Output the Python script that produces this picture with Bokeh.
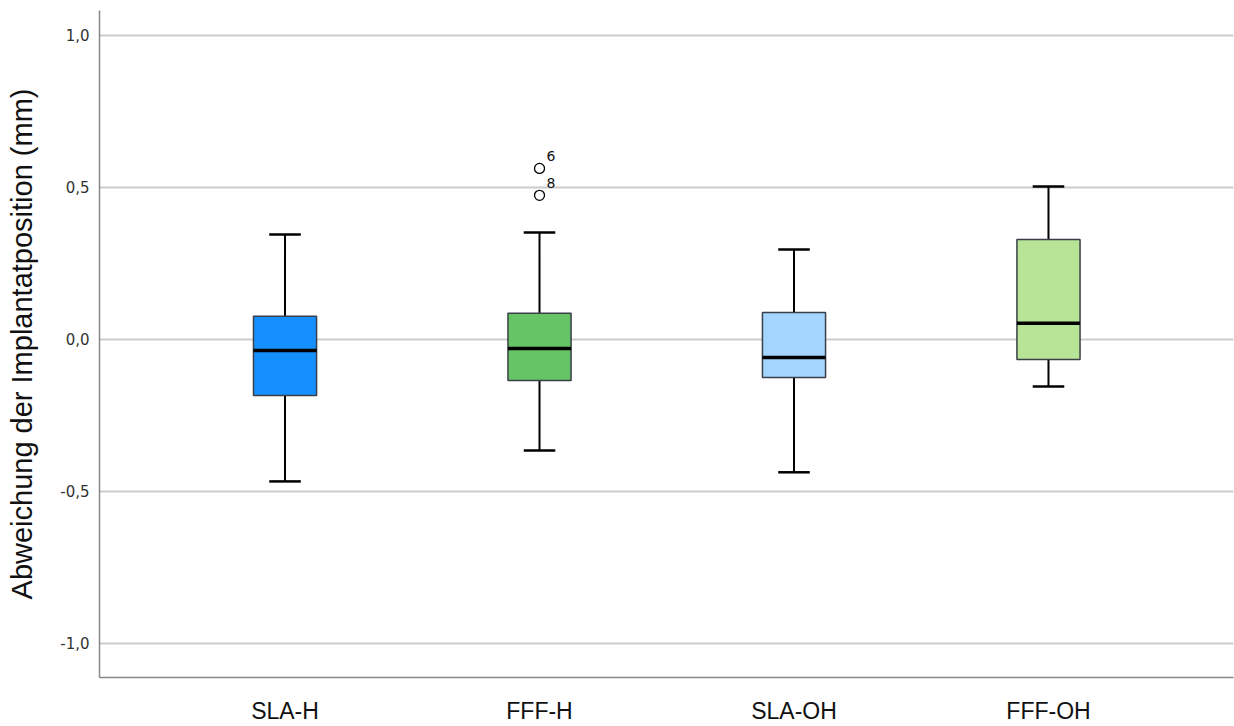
from bokeh.plotting import figure
from bokeh.models import Range1d, FixedTicker, ColumnDataSource
from bokeh.embed import file_html
from bokeh.resources import INLINE
from bokeh.core.properties import value

# Groups and box statistics (mm)
groups = ["SLA-H", "FFF-H", "SLA-OH", "FFF-OH"]
colors = ["#1590ff", "#66c466", "#a3d5ff", "#b8e497"]
whisker_low = [-0.467, -0.365, -0.437, -0.155]
q1 = [-0.184, -0.135, -0.125, -0.066]
median = [-0.036, -0.030, -0.059, 0.053]
q3 = [0.076, 0.086, 0.089, 0.329]
whisker_high = [0.345, 0.352, 0.296, 0.503]

# Outliers (group index, value, case label)
outlier_group = [2, 2]
outlier_value = [0.5625, 0.474]
outlier_label = ["6", "8"]

y_ticks = [-1.0, -0.5, 0.0, 0.5, 1.0]
y_tick_labels = ["-1,0", "-0,5", "0,0", "0,5", "1,0"]

xs = list(range(1, len(groups) + 1))
box_w = 0.248
cap_w = 0.124

p = figure(width=1234, height=726, output_backend="svg", toolbar_location=None,
           x_range=Range1d(0.271, 4.727), y_range=Range1d(-1.112, 1.082),
           min_border_left=99, min_border_right=1, min_border_top=10, min_border_bottom=49)
p.outline_line_color = None
p.background_fill_color = "white"
p.border_fill_color = "white"

# grid
p.xgrid.grid_line_color = None
p.ygrid.grid_line_color = "#cccccc"
p.ygrid.grid_line_width = 2
p.ygrid.ticker = FixedTicker(ticks=y_ticks)

# y axis
p.yaxis.ticker = FixedTicker(ticks=y_ticks)
p.yaxis.major_label_overrides = {t: l for t, l in zip(y_ticks, y_tick_labels)}
p.yaxis.major_tick_line_color = None
p.yaxis.minor_tick_line_color = None
p.yaxis.axis_line_color = "#888888"
p.yaxis.axis_line_width = 1.5
p.yaxis.major_label_text_font = "DejaVu Sans"
p.yaxis.major_label_text_font_size = "15px"
p.yaxis.major_label_text_color = "#333333"
p.yaxis.major_label_standoff = 4
p.yaxis.axis_label = "Abweichung der Implantatposition (mm)"
p.yaxis.axis_label_text_font = "Liberation Sans"
p.yaxis.axis_label_text_font_size = "29px"
p.yaxis.axis_label_text_font_style = "normal"
p.yaxis.axis_label_text_color = "#111111"
p.yaxis.axis_label_standoff = 19

# x axis
p.xaxis.ticker = FixedTicker(ticks=xs)
p.xaxis.major_label_overrides = {x: g for x, g in zip(xs, groups)}
p.xaxis.major_tick_line_color = None
p.xaxis.minor_tick_line_color = None
p.xaxis.axis_line_color = "#888888"
p.xaxis.axis_line_width = 1.5
p.xaxis.major_label_text_font = "Liberation Sans"
p.xaxis.major_label_text_font_size = "23px"
p.xaxis.major_label_text_color = "#111111"
p.xaxis.major_label_standoff = 14

src = ColumnDataSource(dict(x=xs, lo=whisker_low, q1=q1, med=median, q3=q3, hi=whisker_high,
                            color=colors))

# whiskers
p.segment(x0="x", y0="q3", x1="x", y1="hi", source=src, line_color="black", line_width=2)
p.segment(x0="x", y0="lo", x1="x", y1="q1", source=src, line_color="black", line_width=2)
cap_src = ColumnDataSource(dict(x0=[x - cap_w / 2 for x in xs], x1=[x + cap_w / 2 for x in xs],
                                lo=whisker_low, hi=whisker_high))
p.segment(x0="x0", y0="hi", x1="x1", y1="hi", source=cap_src, line_color="black", line_width=2.5)
p.segment(x0="x0", y0="lo", x1="x1", y1="lo", source=cap_src, line_color="black", line_width=2.5)

# boxes
p.vbar(x="x", width=box_w, top="q3", bottom="q1", source=src, fill_color="color",
       line_color="#3a3f48", line_width=1.5)

# medians
med_src = ColumnDataSource(dict(x0=[x - box_w / 2 for x in xs], x1=[x + box_w / 2 for x in xs],
                                med=median))
p.segment(x0="x0", y0="med", x1="x1", y1="med", source=med_src, line_color="black", line_width=3.5)

# outliers
out_src = ColumnDataSource(dict(x=outlier_group, y=outlier_value, label=outlier_label))
p.scatter(x="x", y="y", source=out_src, marker="circle", size=10, fill_color="white",
          line_color="black", line_width=1.3)
p.text(x="x", y="y", text="label", source=out_src, x_offset=7, y_offset=-12,
       text_font=value("DejaVu Sans"), text_font_size="14px", text_color="#111111",
       text_baseline="middle", text_align="left")

open("out.html", "w").write(file_html(p, INLINE))
